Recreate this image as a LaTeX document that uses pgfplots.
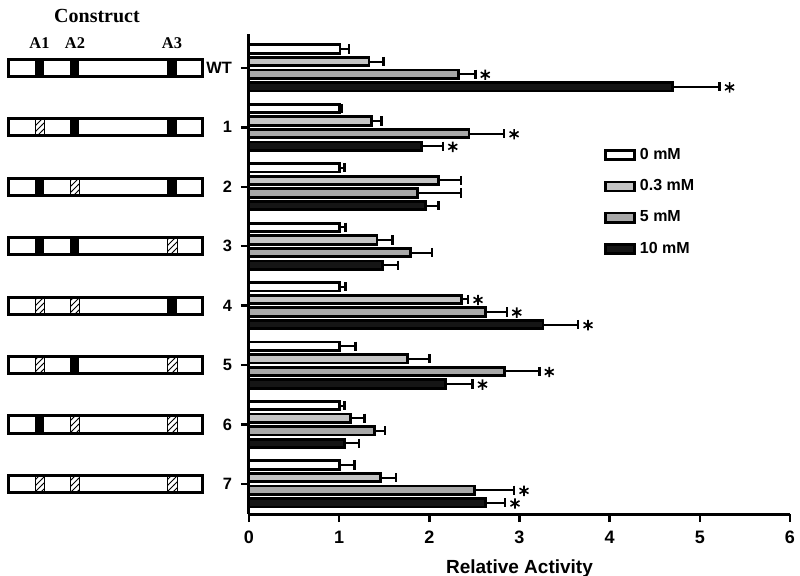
\documentclass[border=0pt]{standalone}
\usepackage{pgfplots}
\pgfplotsset{compat=1.18}
\usepackage{fontspec}
\setmainfont{Liberation Sans}
\newfontfamily\serifbf{Liberation Serif}
\usetikzlibrary{patterns}

\definecolor{cLight}{HTML}{C4C4C4}
\definecolor{cMid}{HTML}{A8A8A8}
\definecolor{cDark}{HTML}{151515}

\newcommand{\blk}[3]{\fill[black] ([yshift=-4.3pt]axis cs:#1,#3) rectangle ([yshift=4.3pt]axis cs:#2,#3);}
\newcommand{\hch}[3]{\draw[line width=0.5pt, pattern=north east lines] ([yshift=-4.3pt]axis cs:#1,#3) rectangle ([yshift=4.3pt]axis cs:#2,#3);}
\newcommand{\cbox}[1]{\draw[line width=1.5pt] ([yshift=-4.3pt]axis cs:-2.6672,#1) rectangle ([yshift=4.3pt]axis cs:-0.5157,#1);}
\newcommand{\construct}[4]{#2{-2.3733}{-2.2735}{#1}#3{-1.9851}{-1.8853}{#1}#4{-0.9094}{-0.7985}{#1}\cbox{#1}}

\begin{document}
\begin{tikzpicture}
\useasboundingbox (0,0) rectangle (400pt,287.5pt);
\begin{axis}[
  at={(124.5pt,30.5pt)}, anchor=south west,
  scale only axis, width=270.5pt, height=240pt,
  xmin=0, xmax=6, ymin=-0.505, ymax=7.57,
  axis lines*=left,
  axis line style={line width=1.5pt, -},
  clip=false,
  xtick={0,1,2,3,4,5,6},
  ytick={0,1,2,3,4,5,6,7},
  yticklabels={7,6,5,4,3,2,1,WT},
  tick style={line width=1.2pt, black},
  major tick length=4pt,
  tick align=outside,
  /pgf/number format/assume math mode=true,
  xticklabel style={font=\fontsize{9}{10}\selectfont\bfseries, yshift=-1pt},
  yticklabel style={font=\fontsize{8.2}{9}\selectfont\bfseries, xshift=-1pt},
  xlabel={Relative Activity},
  xlabel style={font=\fontsize{9.5}{11}\selectfont\bfseries, yshift=-1pt},
  legend cell align=left,
  legend style={at={(0.645,0.78)}, anchor=north west, draw=none, fill=none,
    font=\fontsize{8}{9}\selectfont\bfseries, row sep=4.6pt,
    /tikz/every even column/.append style={column sep=2pt}},
  legend image code/.code={\draw[#1, line width=1.3pt] (0pt,-2.3pt) rectangle (14.5pt,2.3pt);},
  every axis plot/.append style={bar width=4.2pt, bar shift=0pt},
  error bars/x dir=plus, error bars/x explicit,
  error bars/error mark=|,
  error bars/error bar style={line width=1pt, black},
  error bars/error mark options={line width=1.2pt, mark size=2.3pt, black},
]
% 0 mM
\addplot[xbar, draw=black, line width=1.4pt, fill=white]
  coordinates {
  (1.01,7.318) +- (0.10,0)
  (1.00,6.318) +- (0.03,0)
  (1.00,5.318) +- (0.06,0)
  (1.00,4.318) +- (0.07,0)
  (1.00,3.318) +- (0.07,0)
  (1.00,2.318) +- (0.18,0)
  (1.00,1.318) +- (0.06,0)
  (1.00,0.318) +- (0.17,0)
};
\addlegendentry{0 mM}
% 0.3 mM
\addplot[xbar, draw=black, line width=1.4pt, fill=cLight]
  coordinates {
  (1.33,7.106) +- (0.16,0)
  (1.36,6.106) +- (0.11,0)
  (2.10,5.106) +- (0.25,0)
  (1.42,4.106) +- (0.17,0)
  (2.36,3.106) +- (0.07,0)
  (1.76,2.106) +- (0.24,0)
  (1.13,1.106) +- (0.15,0)
  (1.46,0.106) +- (0.17,0)
};
\addlegendentry{0.3 mM}
% 5 mM
\addplot[xbar, draw=black, line width=1.4pt, fill=cMid]
  coordinates {
  (2.32,6.894) +- (0.19,0)
  (2.44,5.894) +- (0.39,0)
  (1.87,4.894) +- (0.48,0)
  (1.79,3.894) +- (0.24,0)
  (2.62,2.894) +- (0.24,0)
  (2.83,1.894) +- (0.39,0)
  (1.39,0.894) +- (0.12,0)
  (2.50,-0.106) +- (0.44,0)
};
\addlegendentry{5 mM}
% 10 mM
\addplot[xbar, draw=black, line width=1.4pt, fill=cDark]
  coordinates {
  (4.70,6.682) +- (0.52,0)
  (1.91,5.682) +- (0.24,0)
  (1.96,4.682) +- (0.14,0)
  (1.48,3.682) +- (0.17,0)
  (3.26,2.682) +- (0.39,0)
  (2.18,1.682) +- (0.30,0)
  (1.06,0.682) +- (0.16,0)
  (2.62,-0.318) +- (0.22,0)
};
\addlegendentry{10 mM}
% significance stars
\addplot[only marks, mark=asterisk, mark size=2.6pt, line width=0.8pt, black, forget plot]
  coordinates {
  (2.62,6.884) (5.33,6.672)
  (2.94,5.884) (2.26,5.672)
  (2.54,3.096) (2.97,2.884) (3.76,2.672)
  (3.33,1.884) (2.59,1.672)
  (3.05,-0.116) (2.95,-0.328)
};
% construct schematics
\construct{7}{\blk}{\blk}{\blk}
\construct{6}{\hch}{\blk}{\blk}
\construct{5}{\blk}{\hch}{\blk}
\construct{4}{\blk}{\blk}{\hch}
\construct{3}{\hch}{\hch}{\blk}
\construct{2}{\hch}{\blk}{\hch}
\construct{1}{\blk}{\hch}{\hch}
\construct{0}{\hch}{\hch}{\hch}
\node[font=\serifbf\fontsize{8.2}{9}\selectfont\bfseries] at (axis cs:-2.3234,7.4205) {A1};
\node[font=\serifbf\fontsize{8.2}{9}\selectfont\bfseries] at (axis cs:-1.9297,7.4205) {A2};
\node[font=\serifbf\fontsize{8.2}{9}\selectfont\bfseries] at (axis cs:-0.8539,7.4205) {A3};
\node[font=\serifbf\fontsize{10}{12}\selectfont\bfseries] at (axis cs:-1.6857,7.8748) {Construct};
\end{axis}
\end{tikzpicture}
\end{document}
